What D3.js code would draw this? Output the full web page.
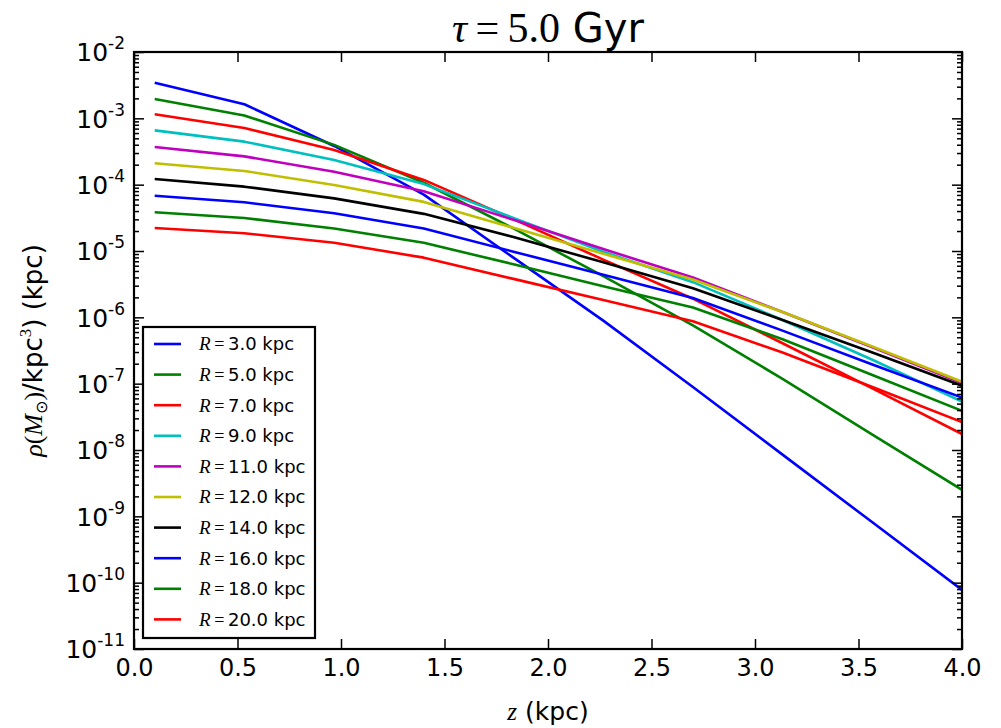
<!DOCTYPE html>
<html><head><meta charset="utf-8">
<script src="https://cdn.jsdelivr.net/npm/d3@7"></script>
<style>
body{margin:0;background:#fff;}
svg{display:block;}
</style></head>
<body>
<svg id="chart" width="1001" height="728"></svg>
<script>
// ---- data ----
const zValues = [0.1, 0.533, 0.967, 1.4, 1.833, 2.267, 2.7, 3.133, 3.567, 4.0];
const rho_R3  = [3.44e-3, 1.63e-3, 3.83e-4, 7.08e-5, 7.94e-6, 8.91e-7, 8.91e-8, 8.51e-9, 8.13e-10, 7.76e-11];
const rho_R5  = [1.95e-3, 1.10e-3, 3.98e-4, 1.07e-4, 2.19e-5, 4.17e-6, 7.59e-7, 1.18e-7, 1.70e-8, 2.51e-9];
const rho_R7  = [1.15e-3, 7.14e-4, 3.33e-4, 1.18e-4, 3.02e-5, 7.41e-6, 1.91e-6, 4.07e-7, 8.51e-8, 1.74e-8];
const rho_R9  = [6.59e-4, 4.45e-4, 2.36e-4, 1.02e-4, 3.16e-5, 9.77e-6, 3.39e-6, 9.12e-7, 2.29e-7, 5.37e-8];
const rho_R11 = [3.70e-4, 2.67e-4, 1.57e-4, 7.94e-5, 2.95e-5, 1.07e-5, 3.98e-6, 1.20e-6, 3.55e-7, 1.02e-7];
const rho_R12 = [2.10e-4, 1.61e-4, 9.89e-5, 5.50e-5, 2.24e-5, 9.12e-6, 3.72e-6, 1.20e-6, 3.63e-7, 1.07e-7];
const rho_R14 = [1.22e-4, 9.33e-5, 6.22e-5, 3.63e-5, 1.62e-5, 6.76e-6, 2.75e-6, 9.12e-7, 2.95e-7, 9.33e-8];
const rho_R16 = [6.82e-5, 5.42e-5, 3.70e-5, 2.19e-5, 9.77e-6, 4.37e-6, 1.95e-6, 6.31e-7, 1.95e-7, 6.17e-8];
const rho_R18 = [3.83e-5, 3.14e-5, 2.19e-5, 1.33e-5, 6.31e-6, 2.95e-6, 1.41e-6, 4.68e-7, 1.35e-7, 3.89e-8];
const rho_R20 = [2.22e-5, 1.85e-5, 1.33e-5, 7.94e-6, 3.80e-6, 1.82e-6, 8.71e-7, 2.95e-7, 8.91e-8, 2.63e-8];
const radii = ["3.0", "5.0", "7.0", "9.0", "11.0", "12.0", "14.0", "16.0", "18.0", "20.0"];
const seriesValues = [rho_R3, rho_R5, rho_R7, rho_R9, rho_R11, rho_R12, rho_R14, rho_R16, rho_R18, rho_R20];
const colors = ["#0000ff", "#008000", "#ff0000", "#00bfbf", "#bf00bf", "#bfbf00", "#000000", "#0000ff", "#008000", "#ff0000"];
const xTicks = [0.0, 0.5, 1.0, 1.5, 2.0, 2.5, 3.0, 3.5, 4.0];
const yExponents = [-2, -3, -4, -5, -6, -7, -8, -9, -10, -11];

// ---- layout ----
const M = {left: 134, top: 52, right: 962, bottom: 649};
const W = M.right - M.left, H = M.bottom - M.top;
const SANS = "DejaVu Sans, sans-serif";
const SERIF = "Liberation Serif, serif";

const svg = d3.select("#chart");
const x = d3.scaleLinear().domain([0, 4]).range([M.left, M.right]);
const y = d3.scaleLog().domain([1e-11, 1e-2]).range([M.bottom, M.top]);

svg.append("defs").append("clipPath").attr("id", "clip")
  .append("rect").attr("x", M.left).attr("y", M.top).attr("width", W).attr("height", H);

// lines
const line = d3.line().x((d, i) => x(zValues[i])).y(d => y(d));
const gLines = svg.append("g").attr("clip-path", "url(#clip)");
seriesValues.forEach((s, k) => {
  gLines.append("path").datum(s).attr("d", line)
    .attr("fill", "none").attr("stroke", colors[k]).attr("stroke-width", 2.6)
    .attr("stroke-linejoin", "round");
});

// minor ticks values
const minorVals = [];
for (let e = -11; e < -2; e++) for (let m = 2; m <= 9; m++) minorVals.push(m * Math.pow(10, e));
const majorVals = yExponents.map(e => Math.pow(10, e));

// axes (ticks inside)
function styleAxis(g) {
  g.select(".domain").remove();
  g.selectAll(".tick line").attr("stroke", "#000").attr("stroke-width", 1.5);
}
const gx = svg.append("g").attr("transform", `translate(0,${M.bottom})`)
  .call(d3.axisBottom(x).tickValues(xTicks).tickSize(-10).tickPadding(10).tickFormat(d3.format(".1f")));
styleAxis(gx);
gx.selectAll("text").attr("font-family", SANS).attr("font-size", 24).attr("fill", "#000");

const gxt = svg.append("g").attr("transform", `translate(0,${M.top})`)
  .call(d3.axisTop(x).tickValues(xTicks).tickSize(-10).tickFormat(""));
styleAxis(gxt);

const gy = svg.append("g").attr("transform", `translate(${M.left},0)`)
  .call(d3.axisLeft(y).tickValues(majorVals).tickSize(-10).tickPadding(9).tickFormat(""));
styleAxis(gy);
gy.selectAll(".tick").each(function(d, i) {
  const t = d3.select(this).append("text")
    .attr("x", -9).attr("dy", "0.35em").attr("text-anchor", "end")
    .attr("font-family", SANS).attr("font-size", 25).attr("fill", "#000");
  t.append("tspan").text("10");
  t.append("tspan").attr("font-size", 17).attr("dy", "-0.7em").text(String(yExponents[i]));
});
const gym = svg.append("g").attr("transform", `translate(${M.left},0)`)
  .call(d3.axisLeft(y).tickValues(minorVals).tickSize(-5).tickFormat(""));
styleAxis(gym);
const gyr = svg.append("g").attr("transform", `translate(${M.right},0)`)
  .call(d3.axisRight(y).tickValues(majorVals).tickSize(-10).tickFormat(""));
styleAxis(gyr);
const gyrm = svg.append("g").attr("transform", `translate(${M.right},0)`)
  .call(d3.axisRight(y).tickValues(minorVals).tickSize(-5).tickFormat(""));
styleAxis(gyrm);

// frame
svg.append("rect").attr("x", M.left).attr("y", M.top).attr("width", W).attr("height", H)
  .attr("fill", "none").attr("stroke", "#000").attr("stroke-width", 2.2);

// title
const title = svg.append("text").attr("x", (M.left + M.right) / 2).attr("y", 42)
  .attr("text-anchor", "middle").attr("font-size", 42).attr("fill", "#000");
title.append("tspan").attr("font-family", SERIF).attr("font-style", "italic").text("τ");
title.append("tspan").attr("font-family", SERIF).text("\u2009=\u20095.0");
title.append("tspan").attr("font-family", SANS).attr("font-size", 40).text(" Gyr");

// x label
const xl = svg.append("text").attr("x", (M.left + M.right) / 2).attr("y", 720)
  .attr("text-anchor", "middle").attr("font-size", 25).attr("fill", "#000");
xl.append("tspan").attr("font-family", SERIF).attr("font-style", "italic").text("z");
xl.append("tspan").attr("font-family", SANS).text(" (kpc)");

// y label
const yl = svg.append("text").attr("transform", `translate(42,${(M.top + M.bottom) / 2}) rotate(-90)`)
  .attr("text-anchor", "middle").attr("font-size", 26).attr("fill", "#000");
yl.append("tspan").attr("font-family", SERIF).attr("font-style", "italic").text("ρ");
yl.append("tspan").attr("font-family", SERIF).text("(");
yl.append("tspan").attr("font-family", SERIF).attr("font-style", "italic").text("M");
yl.append("tspan").attr("font-family", "DejaVu Sans").attr("font-size", 16).attr("dy", 5).text("⊙");
yl.append("tspan").attr("font-family", SERIF).attr("dy", -5).text(")");
yl.append("tspan").attr("font-family", SANS).text("/kpc");
yl.append("tspan").attr("font-family", SERIF).attr("font-size", 17).attr("dy", -11).text("3");
yl.append("tspan").attr("font-family", SANS).attr("dy", 11).text(") (kpc)");

// legend
const L = {x: 143, y: 327, w: 172, h: 311, rowH: 30.6, firstY: 344};
const gl = svg.append("g");
gl.append("rect").attr("x", L.x).attr("y", L.y).attr("width", L.w).attr("height", L.h)
  .attr("fill", "#fff").attr("stroke", "#000").attr("stroke-width", 2.2);
radii.forEach((r, k) => {
  const cy = L.firstY + k * L.rowH;
  gl.append("line").attr("x1", 154).attr("x2", 181).attr("y1", cy).attr("y2", cy)
    .attr("stroke", colors[k]).attr("stroke-width", 2.6);
  const t = gl.append("text").attr("x", 199).attr("y", cy).attr("dy", "0.35em")
    .attr("font-size", 18).attr("fill", "#000");
  t.append("tspan").attr("font-family", SERIF).attr("font-style", "italic").attr("font-size", 19).text("R");
  t.append("tspan").attr("font-family", SERIF).text("\u2009=\u2009");
  t.append("tspan").attr("font-family", SANS).text(r + " kpc");
});
</script>
</body></html>
